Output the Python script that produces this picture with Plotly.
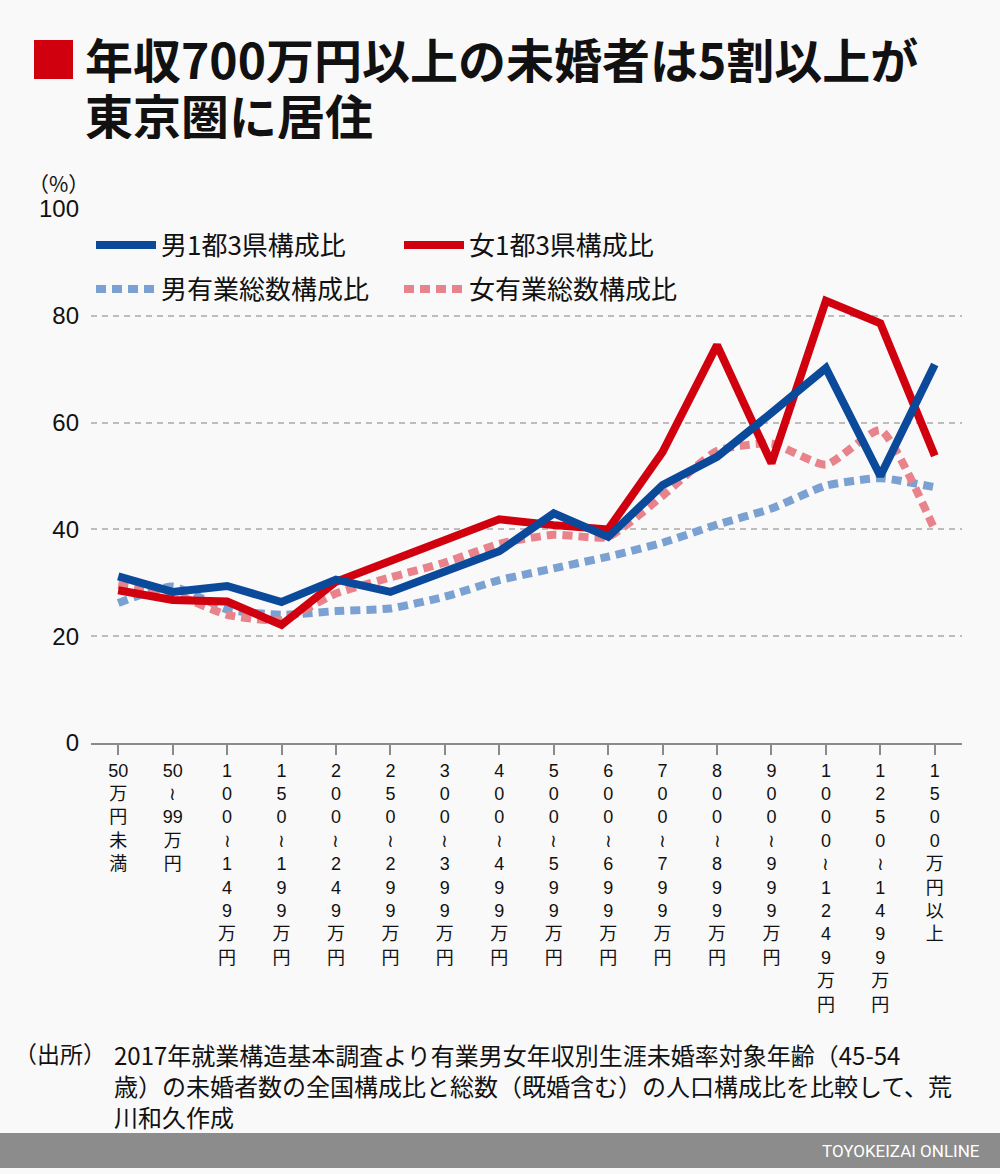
import plotly.graph_objects as go

categories = ["50万円未満", "50～99万円", "100～149万円", "150～199万円", "200～249万円",
              "250～299万円", "300～399万円", "400～499万円", "500～599万円", "600～699万円",
              "700～799万円", "800～899万円", "900～999万円", "1000～1249万円",
              "1250～1499万円", "1500万円以上"]

tick_labels = [
    "50<br>万<br>円<br>未<br>満",
    "50<br>≀<br>99<br>万<br>円",
    "1<br>0<br>0<br>≀<br>1<br>4<br>9<br>万<br>円",
    "1<br>5<br>0<br>≀<br>1<br>9<br>9<br>万<br>円",
    "2<br>0<br>0<br>≀<br>2<br>4<br>9<br>万<br>円",
    "2<br>5<br>0<br>≀<br>2<br>9<br>9<br>万<br>円",
    "3<br>0<br>0<br>≀<br>3<br>9<br>9<br>万<br>円",
    "4<br>0<br>0<br>≀<br>4<br>9<br>9<br>万<br>円",
    "5<br>0<br>0<br>≀<br>5<br>9<br>9<br>万<br>円",
    "6<br>0<br>0<br>≀<br>6<br>9<br>9<br>万<br>円",
    "7<br>0<br>0<br>≀<br>7<br>9<br>9<br>万<br>円",
    "8<br>0<br>0<br>≀<br>8<br>9<br>9<br>万<br>円",
    "9<br>0<br>0<br>≀<br>9<br>9<br>9<br>万<br>円",
    "1<br>0<br>0<br>0<br>≀<br>1<br>2<br>4<br>9<br>万<br>円",
    "1<br>2<br>5<br>0<br>≀<br>1<br>4<br>9<br>9<br>万<br>円",
    "1<br>5<br>0<br>0<br>万<br>円<br>以<br>上",
]

male_tokyo = [31.2, 28.3, 29.4, 26.4, 30.6, 28.3, 32.1, 35.9, 43.0, 38.6,
              48.3, 53.6, 61.8, 70.2, 50.0, 70.9]
female_tokyo = [28.6, 26.8, 26.5, 22.1, 30.2, 34.0, 38.1, 41.9, 40.8, 40.0,
                54.5, 74.5, 52.4, 82.8, 78.6, 53.8]
male_total = [26.2, 29.3, 25.0, 24.0, 24.7, 25.2, 27.4, 30.5, 32.7, 34.9,
              37.5, 40.9, 43.9, 48.2, 49.6, 47.9]
female_total = [29.6, 28.0, 24.0, 23.0, 28.0, 31.0, 33.8, 37.3, 39.0, 38.6,
                46.3, 54.7, 56.1, 52.1, 58.6, 39.9]

y_ticks = [0, 20, 40, 60, 80, 100]

W, H = 1000, 1174
L, R, T, B = 91, 38, 209, 431
PW, PH = W - L - R, H - T - B


def px_x(px):
    return (px - L) / PW


def px_y(py):
    return (T + PH - py) / PH


JP = "Noto Sans CJK JP"
LAT = "Liberation Sans, Noto Sans CJK JP"

BLUE = "#0b4a9b"
RED = "#d0000e"
LBLUE = "#7ba0d2"
PINK = "#e8838b"

fig = go.Figure()

fig.add_trace(go.Scatter(x=categories, y=male_total, mode="lines", name="男有業総数構成比",
                         line=dict(color=LBLUE, width=8, dash="10px,6px", shape="spline", smoothing=0.5),
                         legend="legend2", legendrank=1))
fig.add_trace(go.Scatter(x=categories, y=female_total, mode="lines", name="女有業総数構成比",
                         line=dict(color=PINK, width=8, dash="10px,6px", shape="spline", smoothing=0.5),
                         legend="legend2", legendrank=2))
fig.add_trace(go.Scatter(x=categories, y=female_tokyo, mode="lines", name="女1都3県構成比",
                         line=dict(color=RED, width=8), legend="legend", legendrank=2))
fig.add_trace(go.Scatter(x=categories, y=male_tokyo, mode="lines", name="男1都3県構成比",
                         line=dict(color=BLUE, width=8), legend="legend", legendrank=1))

legend_common = dict(orientation="h", xanchor="left", yanchor="middle",
                     font=dict(family=JP, size=26, color="#111111"),
                     bgcolor="rgba(0,0,0,0)", entrywidth=233, itemwidth=60,
                     traceorder="normal")

fig.update_layout(
    width=W, height=H,
    margin=dict(l=L, r=R, t=T, b=B),
    paper_bgcolor="#f9f9f9", plot_bgcolor="#f9f9f9",
    showlegend=True,
    hovermode=False,
    legend=dict(x=0, y=px_y(245), **legend_common),
    legend2=dict(x=0, y=px_y(289), **legend_common),
    xaxis=dict(
        type="category", range=[-0.5, 15.5],
        tickmode="array", tickvals=categories, ticktext=tick_labels,
        showline=True, linecolor="#8a8a8a", linewidth=2,
        ticks="outside", ticklen=10, tickwidth=1.5, tickcolor="#8a8a8a",
        showgrid=False, zeroline=False,
        tickfont=dict(family=LAT, size=18, color="#111111"),
    ),
    yaxis=dict(
        range=[0, 100], tickmode="array", tickvals=y_ticks,
        showgrid=True, gridcolor="#bdbdbd", gridwidth=1.5, griddash="6px,5px",
        zeroline=False, showline=False,
        ticks="", ticklabelstandoff=11,
        tickfont=dict(family=LAT, size=24, color="#111111"),
    ),
)

shapes = [
    # red square before the title
    dict(type="rect", xref="paper", yref="paper",
         x0=px_x(34), x1=px_x(73), y0=px_y(40), y1=px_y(79),
         fillcolor="#d0000e", line=dict(width=0)),
    # footer bar
    dict(type="rect", xref="paper", yref="paper",
         x0=px_x(0), x1=px_x(1000), y0=px_y(1133), y1=px_y(1168),
         fillcolor="#8c8c8c", line=dict(width=0)),
]


def note(text, x, y, size, xanchor="left", yanchor="middle", color="#111111",
         family=JP, align="left", **kw):
    return dict(text=text, xref="paper", yref="paper", x=px_x(x), y=px_y(y),
                xanchor=xanchor, yanchor=yanchor, align=align, showarrow=False,
                font=dict(family=family, size=size, color=color), **kw)


annotations = [
    note("<b>年収700万円以上の未婚者は5割以上が</b>", 83, 58, 48, height=50),
    note("<b>東京圏に居住</b>", 83, 114, 48, height=50),
    note("（%）", 26, 183, 21),
    note("（出所）", 108, 1053, 23, xanchor="right"),
    note("2017年就業構造基本調査より有業男女年収別生涯未婚率対象年齢（45-54<br>"
         "歳）の未婚者数の全国構成比と総数（既婚含む）の人口構成比を比較して、荒<br>"
         "川和久作成", 112, 1035, 24, yanchor="top"),
    note("TOYOKEIZAI ONLINE", 982, 1151, 17, xanchor="right", color="#ffffff",
         family="Roboto, Liberation Sans"),
]

fig.update_layout(shapes=shapes, annotations=annotations)

fig.write_html("out.html", config={"displayModeBar": False},
               post_script="document.body.style.margin='0';")
